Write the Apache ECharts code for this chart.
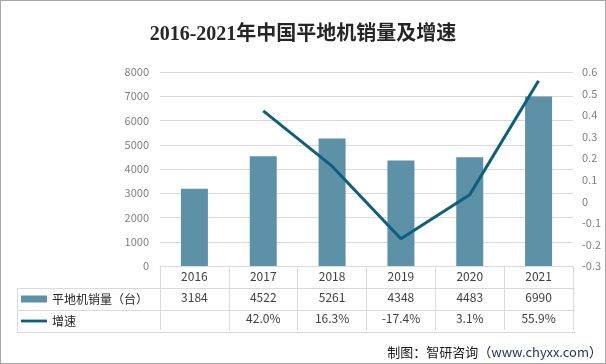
<!DOCTYPE html>
<html>
<head>
<meta charset="utf-8">
<script src="https://cdn.jsdelivr.net/npm/echarts@6/dist/echarts.min.js"></script>
<style>
html,body{margin:0;padding:0;background:#fff;}
#c{width:606px;height:364px;box-sizing:border-box;border:1px solid #a6a6a6;}
</style>
</head>
<body>
<div id="c"></div>
<script>
var years = ['2016','2017','2018','2019','2020','2021'];
var sales = [3184, 4522, 5261, 4348, 4483, 6990];
var growth = [null, 0.420, 0.163, -0.174, 0.031, 0.559];
var leftTicks = {min: 0, max: 8000, interval: 1000};
var rightTicks = {min: -0.3, max: 0.6, interval: 0.1};
var seriesNames = ['平地机销量（台）', '增速'];
var titleText = '2016-2021年中国平地机销量及增速';

var barColor = '#5d91a7';
var lineColor = '#0e5f7b';
var gridColor = '#d9d9d9';
var textColor = '#404040';
var cjk = "'Noto Sans CJK SC', 'Noto Sans', sans-serif";

var chart = echarts.init(document.getElementById('c'), null, {renderer: 'canvas'});
var GL = 159, GR = 574, GT = 71, GB = 267;

var option = {
  animation: false,
  title: [{
    text: titleText,
    left: 'center',
    top: 19,
    textStyle: {fontSize: 20, fontWeight: 'bold', color: '#262626', fontFamily: "'Liberation Serif', 'Noto Sans CJK SC', serif"}
  }, {
    text: '{a|制图：智研咨询（}{b|www.chyxx.com}{a|）}',
    right: 3,
    top: 345,
    padding: 0,
    textStyle: {
      fontWeight: 'normal',
      rich: {
        a: {fontSize: 13, color: '#1a1a1a', fontFamily: cjk, fontWeight: 'normal'},
        b: {fontSize: 13, color: '#1f3864', fontFamily: cjk, fontWeight: 'normal'}
      }
    }
  }],
  legend: {
    orient: 'vertical',
    left: 20,
    top: 292,
    padding: 0,
    itemGap: 10,
    itemWidth: 26,
    itemHeight: 7,
    textStyle: {fontSize: 12, color: '#262626', fontFamily: cjk, lineHeight: 12},
    data: [
      {name: seriesNames[0], icon: 'rect'},
      {name: seriesNames[1], icon: 'path://M0,0L28,0L28,3L0,3Z'}
    ]
  },
  grid: {left: GL, right: 606 - GR, top: GT, bottom: 364 - GB, containLabel: false},
  xAxis: {
    type: 'category',
    data: years,
    axisLine: {show: true, lineStyle: {color: gridColor, width: 1}},
    axisTick: {show: true, length: 64, lineStyle: {color: gridColor}},
    axisLabel: {
      margin: 0,
      interval: 0,
      formatter: function (v, i) {
        var g = growth[i] == null ? ' ' : (growth[i] * 100).toFixed(1) + '%';
        return '{y|' + v + '}\n{v|' + sales[i] + '}\n{g|' + g + '}';
      },
      rich: {
        y: {fontSize: 12, lineHeight: 21, color: textColor, fontFamily: cjk},
        v: {fontSize: 12, lineHeight: 21, color: textColor, fontFamily: cjk},
        g: {fontSize: 12, lineHeight: 21, color: textColor, fontFamily: cjk}
      }
    }
  },
  yAxis: [{
    type: 'value',
    min: leftTicks.min, max: leftTicks.max, interval: leftTicks.interval,
    axisLine: {show: false}, axisTick: {show: false},
    axisLabel: {fontSize: 11, color: '#7f7f7f', margin: 11, fontFamily: cjk,
      formatter: function (v) { return String(v); }},
    splitLine: {lineStyle: {color: gridColor, width: 1}}
  }, {
    type: 'value',
    min: rightTicks.min, max: rightTicks.max, interval: rightTicks.interval,
    axisLine: {show: false}, axisTick: {show: false},
    axisLabel: {
      fontSize: 11, color: '#7f7f7f', margin: 9, fontFamily: cjk,
      formatter: function (v) { return String(parseFloat(v.toFixed(1))); }
    },
    splitLine: {show: false}
  }],
  series: [{
    name: seriesNames[0],
    type: 'bar',
    data: sales,
    barWidth: 27,
    itemStyle: {color: barColor}
  }, {
    name: seriesNames[1],
    type: 'line',
    yAxisIndex: 1,
    data: growth,
    symbol: 'none',
    lineStyle: {color: lineColor, width: 3},
    itemStyle: {color: lineColor}
  }],
  graphic: [
    {type: 'line', shape: {x1: 16, y1: 287.5, x2: GR, y2: 287.5}, style: {stroke: gridColor, lineWidth: 1}},
    {type: 'line', shape: {x1: 16, y1: 309.5, x2: GR, y2: 309.5}, style: {stroke: gridColor, lineWidth: 1}},
    {type: 'line', shape: {x1: 16, y1: 331.5, x2: GR, y2: 331.5}, style: {stroke: gridColor, lineWidth: 1}},
    {type: 'line', shape: {x1: 16.5, y1: 287, x2: 16.5, y2: 332}, style: {stroke: gridColor, lineWidth: 1}}
  ]
};
chart.setOption(option);
</script>
</body>
</html>
